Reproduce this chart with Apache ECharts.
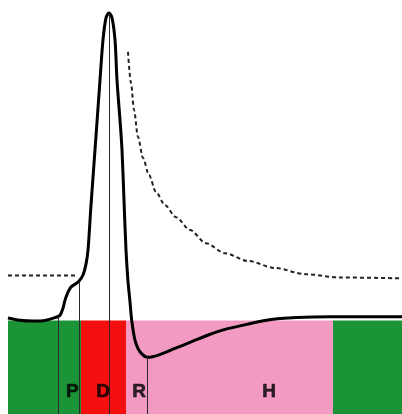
<!DOCTYPE html>
<html>
<head>
<meta charset="utf-8">
<script src="https://cdn.jsdelivr.net/npm/echarts@6/dist/echarts.min.js"></script>
<style>
    html, body {margin: 0; padding: 0; background: #fff;}
    #spikeChart {width: 402px; height: 414px;}
</style>
</head>
<body>
<div id="spikeChart"></div>
<script>
// 时间 ms，电位 mV
let spikeT = [0.2, 0.5, 0.825, 1.125, 1.375, 1.5, 1.575, 1.625, 1.7, 1.775, 1.875, 1.975, 2.075, 2.15, 2.2, 2.275, 2.375, 2.5, 2.575, 2.65, 2.725, 2.8, 2.875, 2.925, 3.0, 3.05, 3.1, 3.15, 3.2, 3.25, 3.2925, 3.375, 3.5, 3.7075, 3.9575, 4.375, 4.7925, 5.2075, 5.625, 6.1675, 6.5825, 7.0, 7.4175, 8.25, 10.05];
let spikeV = [-69.6, -70.4, -70.7, -70.5, -69.5, -68.6, -66.1, -63.2, -60.3, -58.5, -57.5, -56.4, -54.2, -50.3, -45.3, -29.2, -9.4, 15.6, 30.0, 37.9, 39.6, 37.9, 30.0, 15.6, 1.3, -9.4, -27.4, -45.3, -56.5, -63.8, -70.4, -77.5, -81.7, -83.7, -82.9, -80.5, -78.1, -75.7, -73.7, -71.9, -70.6, -69.8, -69.4, -69.2, -69.2];

// 阈值（虚线）
let restThreshT = [0.2, 1.95];
let restThreshV = [-54.4, -54.4];
let refrThreshT = [3.2, 3.275, 3.35, 3.45, 3.575, 3.725, 3.9, 4.125, 4.4, 4.75, 5.15, 5.625, 6.2, 6.875, 7.625, 8.5, 10.05];
let refrThreshV = [25.7, 14.6, 4.9, -4.8, -12.3, -18.4, -24.5, -29.2, -33.5, -38.1, -42.8, -46.4, -49.2, -51.7, -53.9, -55.1, -55.4];

// 分段色块
let bandStart = [0.2, 2.025, 3.15, 8.325];
let bandEnd = [2.025, 3.15, 8.325, 10.05];
let bandColor = ['#1b9337', '#f50f0f', '#f39ac3', '#1b9337'];
let bandTop = -70.5;
let axisMin = -104;
let axisMax = 44.3;

// 竖线
let markerT = [1.45, 1.99, 2.725, 3.675];
let markerV = [-69.0, -56.4, 39.6, -83.7];

// 标签
let labelText = ['P', 'D', 'R', 'H'];
let labelT = [1.81, 2.575, 3.48, 6.725];
let labelV = [-96.0, -96.0, -96.0, -96.0];

function pairs(xs, ys) {
    let out = [];
    for (let i = 0; i < xs.length; i++) out.push([xs[i], ys[i]]);
    return out;
}

let areas = [];
for (let i = 0; i < bandStart.length; i++) {
    areas.push([
        {xAxis: bandStart[i], yAxis: axisMin, itemStyle: {color: bandColor[i], opacity: 1}},
        {xAxis: bandEnd[i], yAxis: bandTop}
    ]);
}
let vlines = [];
for (let i = 0; i < markerT.length; i++) {
    vlines.push([{coord: [markerT[i], markerV[i]]}, {coord: [markerT[i], axisMin]}]);
}
let labels = [];
for (let i = 0; i < labelText.length; i++) {
    labels.push({name: labelText[i], value: [labelT[i], labelV[i]]});
}

let chart = echarts.init(document.getElementById('spikeChart'));
let option = {
    animation: false,
    grid: {left: 0, right: 0, top: 0, bottom: 0},
    xAxis: {type: 'value', min: 0, max: 10.05, show: false},
    yAxis: {type: 'value', min: axisMin, max: axisMax, show: false},
    series: [
        {
            name: 'bands',
            type: 'line',
            data: [],
            z: 1,
            markArea: {silent: true, data: areas},
            markLine: {
                silent: true,
                symbol: 'none',
                label: {show: false},
                lineStyle: {color: '#2a2a2a', width: 1, type: 'solid'},
                data: vlines
            }
        },
        {
            name: 'threshold-rest',
            type: 'line',
            z: 3,
            showSymbol: false,
            data: pairs(restThreshT, restThreshV),
            lineStyle: {color: '#222', width: 2, type: [4, 3]}
        },
        {
            name: 'threshold-refr',
            type: 'line',
            z: 3,
            smooth: 0.3,
            smoothMonotone: 'x',
            showSymbol: false,
            data: pairs(refrThreshT, refrThreshV),
            lineStyle: {color: '#222', width: 2, type: [4, 3]}
        },
        {
            name: 'spike',
            type: 'line',
            z: 4,
            smooth: 0.3,
            showSymbol: false,
            data: pairs(spikeT, spikeV),
            lineStyle: {color: '#000', width: 3}
        },
        {
            name: 'labels',
            type: 'scatter',
            z: 5,
            symbolSize: 0,
            data: labels,
            label: {
                show: true,
                position: 'inside',
                formatter: '{b}',
                color: '#000',
                fontFamily: 'Liberation Sans',
                fontWeight: 'bold',
                fontSize: 19,
                textBorderColor: '#000',
                textBorderWidth: 0.6
            }
        }
    ]
};
chart.setOption(option);
</script>
</body>
</html>
